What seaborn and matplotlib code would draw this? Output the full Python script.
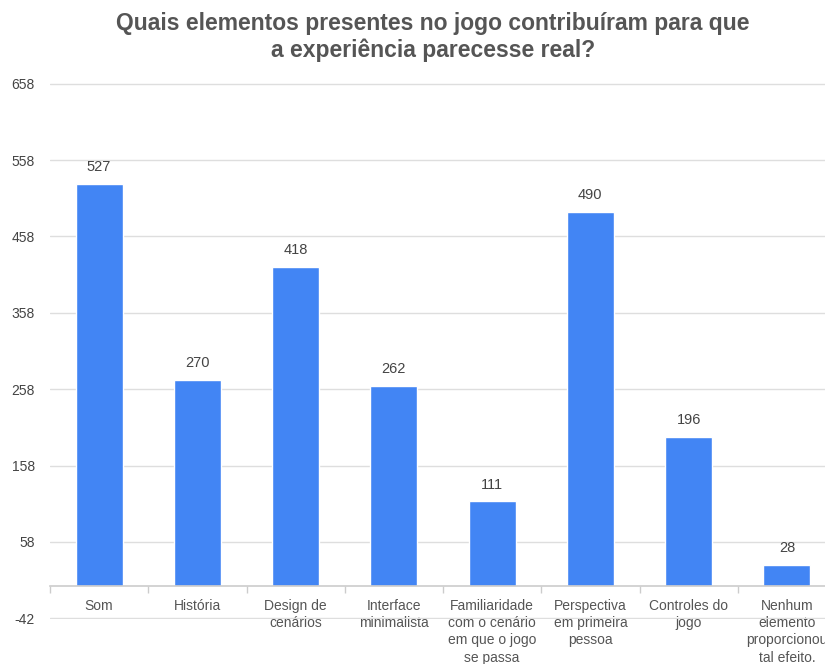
import matplotlib
matplotlib.use("Agg")
import matplotlib.pyplot as plt
from matplotlib.ticker import FixedLocator
import numpy as np
import pandas as pd
import seaborn as sns

categorias = [
    "Som",
    "História",
    "Design de\ncenários",
    "Interface\nminimalista",
    "Familiaridade\ncom o cenário\nem que o jogo\nse passa",
    "Perspectiva\nem primeira\npessoa",
    "Controles do\njogo",
    "Nenhum\nelemento\nproporcionou\ntal efeito.",
]
respostas = [527, 270, 418, 262, 111, 490, 196, 28]
y_ticks = [-42, 58, 158, 258, 358, 458, 558, 658]

titulo = "Quais elementos presentes no jogo contribuíram para que\na experiência parecesse real?"

sns.set_theme(style="white")
plt.rcParams["font.family"] = ["Liberation Sans", "DejaVu Sans"]

df = pd.DataFrame({"categoria": categorias, "respostas": respostas})

fig = plt.figure(figsize=(8.25, 6.64), dpi=100)
ax = fig.add_axes([50 / 825, 1 - 619 / 664, 786 / 825, (619 - 83) / 664])

sns.barplot(data=df, x="categoria", y="respostas", color="#4285F4",
            saturation=1, width=0.48, ax=ax, zorder=3)

ax.set_ylim(y_ticks[0] - 1, y_ticks[-1] + 1)
ax.set_xlim(-0.5, len(categorias) - 0.5)
ax.set_yticks(y_ticks)
ax.set_yticklabels([str(v) for v in y_ticks])
ax.grid(axis="y", color="#dedede", linewidth=1, zorder=0)
ax.grid(axis="x", visible=False)

for s in ["top", "right", "left"]:
    ax.spines[s].set_visible(False)
ax.spines["bottom"].set_position(("data", 0))
ax.spines["bottom"].set_color("#cccccc")
ax.spines["bottom"].set_linewidth(1.2)
ax.spines["bottom"].set_zorder(4)

ax.tick_params(axis="y", length=0, pad=11, labelsize=10, labelcolor="#444444")
ax.tick_params(axis="x", which="major", length=0, pad=9, labelsize=10,
               labelcolor="#555555")
ax.xaxis.set_minor_locator(FixedLocator(np.arange(-0.5, len(categorias), 1.0)))
ax.tick_params(axis="x", which="minor", length=5, width=1, color="#cccccc",
               direction="out", bottom=True)
for lbl in ax.get_xticklabels():
    lbl.set_linespacing(1.3)

ax.set_xlabel("")
ax.set_ylabel("")

for cont in ax.containers:
    ax.bar_label(cont, labels=[str(v) for v in respostas], padding=7,
                 fontsize=10.5, color="#444444")

fig.text(0.525, 1 - 37 / 664, titulo, ha="center", va="center",
         fontsize=16.5, fontweight="bold", color="#555555", linespacing=1.15)

fig.savefig("out.png", dpi=100)
